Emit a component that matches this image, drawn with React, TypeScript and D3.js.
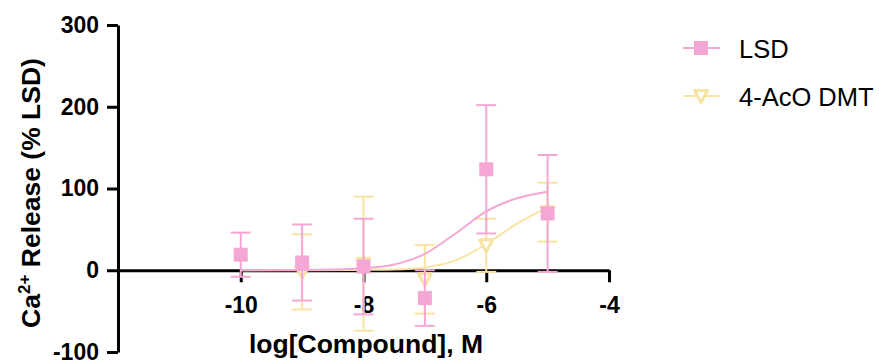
import { useEffect, useRef } from "react";
import * as d3 from "d3";

// LSD data (mean ± error), x = log[Compound], M
const lsdDose = [-10, -9, -8, -7, -6, -5];
const lsdMean = [19, 9.5, 4.5, -34, 123.5, 69.5];
const lsdErr = [27, 46.5, 58.5, 34, 78.5, 71.5];

// 4-AcO DMT data
const dmtDose = [-9, -8, -7, -6, -5];
const dmtMean = [-2, 8, -11, 30.5, 71];
const dmtErr = [46, 82, 42, 32.5, 36];

// fitted curves
const lsdFitX = [-10, -9, -8, -7.5, -7, -6.5, -6, -5.5, -5];
const lsdFitY = [0, 0.3, 2.5, 7, 20, 45, 72, 88, 96];
const dmtFitX = [-10, -9, -8, -7.5, -7, -6.5, -6, -5.5, -5];
const dmtFitY = [0, 0, 0.5, 1, 3.5, 12, 32, 57, 77];

const yTicks = [-100, 0, 100, 200, 300];
const xTicks = [-10, -8, -6, -4];

const PINK = "#F4A7D4";
const YELLOW = "#F8E4A2";
const FONT = "Arial, 'Liberation Sans', sans-serif";

type Sym = "square" | "triangle";

export default function App() {
  const ref = useRef<SVGSVGElement>(null);

  useEffect(() => {
    if (!ref.current) return;
    const svg = d3.select(ref.current);
    svg.selectAll("*").remove();

    const x = d3.scaleLinear().domain([-12, -4]).range([118, 609]);
    const y = d3.scaleLinear().domain([-100, 300]).range([352, 25]);

    // y axis
    const yAxis = svg
      .append("g")
      .attr("transform", `translate(${x(-12)},0)`)
      .call(d3.axisLeft(y).tickValues(yTicks).tickSize(11).tickSizeOuter(0).tickPadding(8));
    yAxis.select(".domain").attr("stroke", "#000").attr("stroke-width", 3);
    yAxis.selectAll(".tick line").attr("stroke", "#000").attr("stroke-width", 3);
    yAxis
      .selectAll(".tick text")
      .style("font-family", FONT)
      .style("font-size", "23px")
      .style("font-weight", "bold")
      .attr("fill", "#000")
      .text((d) => `${d}`);

    // x axis sits on y = 0
    const xAxis = svg
      .append("g")
      .attr("transform", `translate(0,${y(0)})`)
      .call(d3.axisBottom(x).tickValues(xTicks).tickSize(12).tickSizeOuter(0).tickPadding(14));
    xAxis.select(".domain").attr("stroke", "#000").attr("stroke-width", 3);
    xAxis.selectAll(".tick line").attr("stroke", "#000").attr("stroke-width", 3);
    xAxis
      .selectAll(".tick text")
      .style("font-family", FONT)
      .style("font-size", "23px")
      .style("font-weight", "bold")
      .attr("fill", "#000")
      .text((d) => `${d}`);

    // axis titles
    svg
      .append("text")
      .attr("x", 366)
      .attr("y", 353)
      .attr("text-anchor", "middle")
      .style("font-family", FONT)
      .style("font-size", "26.5px")
      .style("font-weight", "bold")
      .text("log[Compound], M");

    const yt = svg
      .append("text")
      .attr("transform", `translate(40,193) rotate(-90)`)
      .attr("text-anchor", "middle")
      .style("font-family", FONT)
      .style("font-size", "26.5px")
      .style("font-weight", "bold");
    yt.append("tspan").text("Ca");
    yt.append("tspan").attr("dy", -10).style("font-size", "17px").text("2+");
    yt.append("tspan").attr("dy", 10).text(" Release (% LSD)");

    const drawSymbol = (
      g: d3.Selection<SVGGElement, unknown, null, undefined>,
      cx: number,
      cy: number,
      color: string,
      symbol: Sym
    ) => {
      if (symbol === "square") {
        g.append("rect").attr("x", cx - 7).attr("y", cy - 7).attr("width", 14).attr("height", 14).attr("fill", color);
      } else {
        g.append("path")
          .attr("d", `M${cx - 6.5},${cy - 5.5}L${cx + 6.5},${cy - 5.5}L${cx},${cy + 6.5}Z`)
          .attr("fill", "#fff")
          .attr("stroke", color)
          .attr("stroke-width", 3)
          .attr("stroke-linejoin", "round");
      }
    };

    const drawSeries = (
      dose: number[],
      mean: number[],
      err: number[],
      fitX: number[],
      fitY: number[],
      color: string,
      symbol: Sym
    ) => {
      const g = svg.append("g");
      // error bars
      dose.forEach((d, i) => {
        const cx = x(d);
        const top = y(mean[i] + err[i]);
        const bot = y(mean[i] - err[i]);
        g.append("line").attr("x1", cx).attr("x2", cx).attr("y1", top).attr("y2", bot).attr("stroke", color).attr("stroke-width", 2);
        [top, bot].forEach((yy) =>
          g.append("line").attr("x1", cx - 10).attr("x2", cx + 10).attr("y1", yy).attr("y2", yy).attr("stroke", color).attr("stroke-width", 2)
        );
      });
      // fitted curve
      const fit = d3
        .line<number>()
        .x((d) => x(d))
        .y((_, i) => y(fitY[i]))
        .curve(d3.curveMonotoneX);
      g.append("path").attr("d", fit(fitX)).attr("fill", "none").attr("stroke", color).attr("stroke-width", 2);
      // symbols
      dose.forEach((d, i) => drawSymbol(g, x(d), y(mean[i]), color, symbol));
    };

    drawSeries(dmtDose, dmtMean, dmtErr, dmtFitX, dmtFitY, YELLOW, "triangle");
    drawSeries(lsdDose, lsdMean, lsdErr, lsdFitX, lsdFitY, PINK, "square");

    // legend
    const legend = [
      { name: "LSD", color: PINK, symbol: "square" as Sym },
      { name: "4-AcO DMT", color: YELLOW, symbol: "triangle" as Sym },
    ];
    legend.forEach((item, i) => {
      const ly = 48 + i * 48;
      const lg = svg.append("g");
      lg.append("line").attr("x1", 683).attr("x2", 720).attr("y1", ly).attr("y2", ly).attr("stroke", item.color).attr("stroke-width", 2);
      drawSymbol(lg, 701, ly, item.color, item.symbol);
      lg.append("text")
        .attr("x", 739)
        .attr("y", ly + 10)
        .style("font-family", FONT)
        .style("font-size", "25.5px")
        .text(item.name);
    });
  }, []);

  return (
    <svg
      ref={ref}
      width={879}
      height={360}
      style={{ position: "absolute", left: 0, top: 0, background: "#fff" }}
    />
  );
}
